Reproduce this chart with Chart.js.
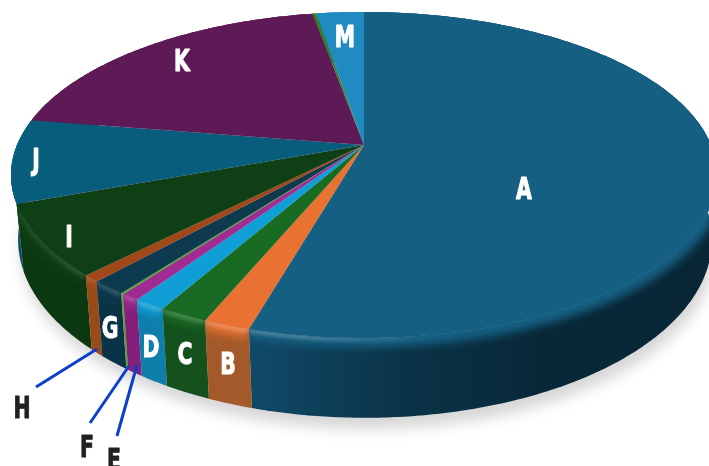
<!DOCTYPE html>
<html>
<head>
<meta charset="utf-8">
<script src="https://cdn.jsdelivr.net/npm/chart.js@4"></script>
<style>
  html, body { margin: 0; padding: 0; background: #fff; overflow: hidden; }
  canvas { display: block; }
</style>
</head>
<body>
<canvas id="pie" width="709" height="466"></canvas>
<script>
// data (percent of the pie)
const categories = ["A", "B", "C", "D", "E", "F", "G", "H", "I", "J", "K", "L", "M"];
const values = [54.4, 1.8, 1.9, 1.25, 0.72, 0.1, 1.4, 0.67, 7.06, 8.3, 19.6, 0.2, 2.6];

const topColors = ["#156082", "#e97132", "#196b24", "#0f9ed5", "#a02b93", "#4ea72e", "#0d3a4e",
  "#a1481a", "#0f4015", "#095d7c", "#5e1a56", "#3b7d23", "#1f8bc0"];
const sideColors = ["#0c3a50", "#a3592a", "#14511d", "#0f7eab", "#861f7b", "#4ea72e", "#0b3347",
  "#9a4a16", "#0c3811", "#0b5070", "#4e1547", "#2f6b1c", "#1a75a3"];

// where the labels sit, and the leader lines for the thin slices
const labelSpots = {
  A: [524, 188], B: [228, 363], C: [185, 353], D: [151, 346], G: [110, 327], I: [69, 236],
  J: [36, 159], K: [182, 60], M: [345, 36], H: [22, 407], F: [87, 446], E: [114, 459]
};
const leaders = [[36, 387, 97, 349], [90, 423, 129, 366], [117, 436, 137, 365]];
const outsideLabels = ["H", "F", "E"];

// tilted disc: a small perspective so the apex sits above the middle of the ellipse
const topFace = { x: 364, y: 145, a: 347, b: 157.5 };
const bottomFace = { x: 365, y: 207, a: 341, b: 172 };
const persp = 0.184;

function project(face, angle) {
  const u = Math.cos(angle), v = Math.sin(angle);
  const w = 1 - persp * v;
  return [face.x + face.a * u / w, face.y + face.b * v / w];
}

function rimPath(ctx, face, start, end, moveFirst) {
  const steps = Math.max(2, Math.ceil(Math.abs(end - start) / 0.01));
  for (let i = 0; i <= steps; i++) {
    const p = project(face, start + (end - start) * i / steps);
    if (i === 0 && moveFirst) ctx.moveTo(p[0], p[1]);
    else ctx.lineTo(p[0], p[1]);
  }
}

const pie3d = {
  id: "pie3d",
  beforeDatasetsDraw(chart) {
    const ctx = chart.ctx;
    const arcs = chart.getDatasetMeta(0).data;

    // soft shadow on the floor
    ctx.save();
    ctx.filter = "blur(7px)";
    ctx.fillStyle = "rgba(0,0,0,0.16)";
    ctx.translate(3, 11);
    ctx.beginPath();
    rimPath(ctx, bottomFace, 0, Math.PI * 2, true);
    ctx.fill();
    ctx.restore();

    // side wall, back slices first
    const order = arcs.map((arc, i) => i).sort((p, q) => {
      const mid = i => Math.sin((arcs[i].startAngle + arcs[i].endAngle) / 2);
      return mid(p) - mid(q);
    });
    const sideShape = arc => {
      ctx.beginPath();
      rimPath(ctx, topFace, arc.startAngle, arc.endAngle, true);
      rimPath(ctx, bottomFace, arc.endAngle, arc.startAngle, false);
      ctx.closePath();
    };
    order.forEach(i => {
      const arc = arcs[i];
      ctx.save();
      sideShape(arc);
      if (i === 0) {
        const g = ctx.createLinearGradient(250, 0, 709, 0);
        g.addColorStop(0, "#104a69");
        g.addColorStop(0.33, "#0b3348");
        g.addColorStop(0.63, "#082838");
        g.addColorStop(1, "#082636");
        ctx.fillStyle = g;
      } else {
        ctx.fillStyle = sideColors[i];
      }
      ctx.fill();
      ctx.clip();

      // rounded edge: slice colour bleeding over the rim, then a light band
      ctx.filter = "blur(4px)";
      ctx.beginPath();
      rimPath(ctx, topFace, arc.startAngle, arc.endAngle, true);
      ctx.strokeStyle = topColors[i];
      ctx.lineWidth = 18;
      ctx.stroke();
      const shine = ctx.createLinearGradient(0, 0, 709, 0);
      shine.addColorStop(0, "rgba(255,255,255,0.03)");
      shine.addColorStop(0.2, "rgba(255,255,255,0.16)");
      shine.addColorStop(0.42, "rgba(255,255,255,0.2)");
      shine.addColorStop(0.62, "rgba(255,255,255,0)");
      ctx.filter = "blur(1.5px)";
      ctx.strokeStyle = shine;
      ctx.lineWidth = 8;
      ctx.stroke();
      ctx.restore();
    });

    // top face
    arcs.forEach((arc, i) => {
      ctx.beginPath();
      ctx.moveTo(topFace.x, topFace.y);
      rimPath(ctx, topFace, arc.startAngle, arc.endAngle, false);
      ctx.closePath();
      ctx.fillStyle = topColors[i];
      ctx.fill();
    });
    return false; // the flat pie is replaced by the tilted one
  },
  afterDraw(chart) {
    const ctx = chart.ctx;
    ctx.save();
    ctx.strokeStyle = "#0a3fd0";
    ctx.lineWidth = 3;
    leaders.forEach(l => {
      ctx.beginPath();
      ctx.moveTo(l[0], l[1]);
      ctx.lineTo(l[2], l[3]);
      ctx.stroke();
    });
    // no narrow bold face is installed, so squeeze DejaVu Sans Bold and thicken it
    ctx.font = 'bold 30px "DejaVu Sans"';
    ctx.textAlign = "center";
    ctx.textBaseline = "alphabetic";
    ctx.lineJoin = "round";
    Object.keys(labelSpots).forEach(name => {
      const color = outsideLabels.includes(name) ? "#231f20" : "#ffffff";
      ctx.save();
      ctx.translate(labelSpots[name][0], labelSpots[name][1] + 11);
      ctx.scale(0.68, 1);
      ctx.fillStyle = color;
      ctx.strokeStyle = color;
      ctx.lineWidth = 1.1;
      ctx.fillText(name, 0, 0);
      ctx.strokeText(name, 0, 0);
      ctx.restore();
    });
    ctx.restore();
  }
};

new Chart(document.getElementById("pie"), {
  type: "pie",
  data: {
    labels: categories,
    datasets: [{ data: values, backgroundColor: topColors, borderWidth: 0 }]
  },
  options: {
    responsive: false,
    animation: false,
    plugins: { legend: { display: false }, tooltip: { enabled: false } }
  },
  plugins: [pie3d]
});
</script>
</body>
</html>
